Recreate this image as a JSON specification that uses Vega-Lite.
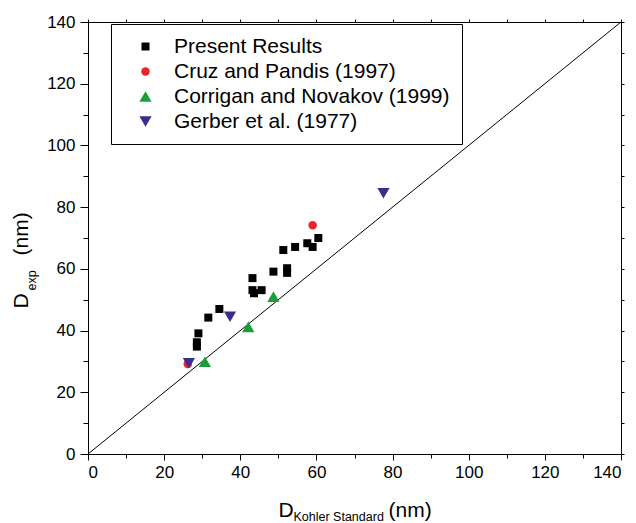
{
  "$schema": "https://vega.github.io/schema/vega-lite/v6.json",
  "width": 533,
  "height": 432,
  "autosize": {"type": "none"},
  "padding": {"left": 88, "top": 22, "right": 15, "bottom": 69},
  "background": "white",
  "config": {
    "view": {"stroke": null},
    "axis": {
      "domainColor": "black",
      "domainWidth": 1,
      "tickColor": "black",
      "tickWidth": 1,
      "labelColor": "black",
      "titleColor": "black",
      "labelFont": "Liberation Sans",
      "titleFont": "Liberation Sans",
      "labelFontSize": 17,
      "titleFontWeight": "normal",
      "grid": false
    },
    "legend": {
      "labelFont": "Liberation Sans",
      "labelFontSize": 21,
      "labelColor": "black",
      "labelLimit": 400
    }
  },
  "datasets": {
    "diag": [{"x": 0, "y": 0}, {"x": 140, "y": 140}],
    "pts": [
      {"x": 51.3, "y": 66.1, "series": "Present Results"},
      {"x": 54.4, "y": 67.1, "series": "Present Results"},
      {"x": 57.6, "y": 68.3, "series": "Present Results"},
      {"x": 59.0, "y": 67.1, "series": "Present Results"},
      {"x": 60.5, "y": 70.0, "series": "Present Results"},
      {"x": 48.7, "y": 59.1, "series": "Present Results"},
      {"x": 52.3, "y": 60.2, "series": "Present Results"},
      {"x": 52.3, "y": 58.7, "series": "Present Results"},
      {"x": 43.2, "y": 57.0, "series": "Present Results"},
      {"x": 43.2, "y": 53.1, "series": "Present Results"},
      {"x": 43.6, "y": 52.1, "series": "Present Results"},
      {"x": 45.6, "y": 53.1, "series": "Present Results"},
      {"x": 34.5, "y": 47.0, "series": "Present Results"},
      {"x": 31.6, "y": 44.2, "series": "Present Results"},
      {"x": 29.0, "y": 39.1, "series": "Present Results"},
      {"x": 28.6, "y": 36.2, "series": "Present Results"},
      {"x": 28.6, "y": 34.8, "series": "Present Results"},
      {"x": 59.0, "y": 74.1, "series": "Cruz and Pandis (1997)"},
      {"x": 26.2, "y": 29.2, "series": "Cruz and Pandis (1997)"},
      {"x": 48.7, "y": 51.0, "series": "Corrigan and Novakov (1999)"},
      {"x": 42.1, "y": 41.2, "series": "Corrigan and Novakov (1999)"},
      {"x": 30.7, "y": 29.9, "series": "Corrigan and Novakov (1999)"},
      {"x": 37.3, "y": 44.5, "series": "Gerber et al. (1977)"},
      {"x": 26.5, "y": 29.4, "series": "Gerber et al. (1977)"},
      {"x": 77.6, "y": 84.5, "series": "Gerber et al. (1977)"}
    ]
  },
  "layer": [
    {
      "data": {"name": "diag"},
      "mark": {"type": "line", "color": "black", "strokeWidth": 1},
      "encoding": {
        "x": {
          "field": "x", "type": "quantitative",
          "scale": {"domain": [0, 140], "nice": false, "zero": false},
          "axis": {
            "orient": "bottom", "values": [0, 20, 40, 60, 80, 100, 120, 140],
            "tickSize": 6, "labelPadding": 4,
            "title": "D", "titleFontSize": 21,
            "titleX": 190, "titleY": 62, "titleAlign": "left", "titleBaseline": "alphabetic", "titleAnchor": null
          }
        },
        "y": {
          "field": "y", "type": "quantitative",
          "scale": {"domain": [0, 140], "nice": false, "zero": false},
          "axis": {
            "orient": "left", "values": [0, 20, 40, 60, 80, 100, 120, 140],
            "tickSize": 8, "labelPadding": 5,
            "title": "D", "titleFontSize": 21, "titleAngle": -90,
            "titleX": -61, "titleY": 286, "titleAlign": "left", "titleBaseline": "alphabetic"
          }
        }
      }
    },
    {
      "data": {"name": "pts"},
      "mark": {"type": "point", "filled": true, "opacity": 1},
      "encoding": {
        "x": {
          "field": "x", "type": "quantitative",
          "axis": {
            "orient": "bottom", "values": [10, 30, 50, 70, 90, 110, 130],
            "tickSize": 4, "labels": false, "domain": false,
            "title": "Kohler Standard", "titleFontSize": 12.5,
            "titleX": 205, "titleY": 66, "titleAlign": "left", "titleBaseline": "alphabetic"
          }
        },
        "y": {
          "field": "y", "type": "quantitative",
          "axis": {
            "orient": "left", "values": [10, 30, 50, 70, 90, 110, 130],
            "tickSize": 5, "labels": false, "domain": false,
            "title": "exp", "titleFontSize": 12.5, "titleAngle": -90,
            "titleX": -53, "titleY": 268, "titleAlign": "left", "titleBaseline": "alphabetic"
          }
        },
        "shape": {
          "field": "series", "type": "nominal",
          "scale": {
            "domain": ["Present Results", "Cruz and Pandis (1997)", "Corrigan and Novakov (1999)", "Gerber et al. (1977)"],
            "range": ["square", "circle", "triangle-up", "triangle-down"]
          },
          "legend": {
            "title": null, "orient": "none", "legendX": 23, "legendY": 2,
            "strokeColor": "black", "padding": 12, "symbolOffset": 12,
            "labelOffset": 18, "rowPadding": 3
          }
        },
        "color": {
          "field": "series", "type": "nominal",
          "scale": {
            "domain": ["Present Results", "Cruz and Pandis (1997)", "Corrigan and Novakov (1999)", "Gerber et al. (1977)"],
            "range": ["#000000", "#e8262a", "#17a03a", "#3d2c8d"]
          },
          "legend": {
            "title": null, "orient": "none", "legendX": 23, "legendY": 2,
            "strokeColor": "black", "padding": 12, "symbolOffset": 12,
            "labelOffset": 18, "rowPadding": 3
          }
        },
        "size": {
          "field": "series", "type": "ordinal",
          "scale": {
            "type": "ordinal",
            "domain": ["Present Results", "Cruz and Pandis (1997)", "Corrigan and Novakov (1999)", "Gerber et al. (1977)"],
            "range": [64, 72, 150, 150]
          },
          "legend": {
            "title": null, "orient": "none", "legendX": 23, "legendY": 2,
            "strokeColor": "black", "padding": 12, "symbolOffset": 12,
            "labelOffset": 18, "rowPadding": 3
          }
        }
      }
    },
    {
      "data": {"name": "diag"},
      "mark": {"type": "point", "opacity": 0},
      "encoding": {
        "x": {
          "field": "x", "type": "quantitative",
          "axis": {
            "orient": "bottom", "ticks": false, "labels": false, "domain": false,
            "title": "(nm)", "titleFontSize": 21,
            "titleX": 300, "titleY": 62, "titleAlign": "left", "titleBaseline": "alphabetic"
          }
        },
        "y": {
          "field": "y", "type": "quantitative",
          "axis": {
            "orient": "left", "ticks": false, "labels": false, "domain": false,
            "title": "(nm)", "titleFontSize": 21, "titleAngle": -90,
            "titleX": -61, "titleY": 233, "titleAlign": "left", "titleBaseline": "alphabetic"
          }
        }
      }
    },
    {
      "data": {"name": "diag"},
      "mark": {"type": "point", "opacity": 0},
      "encoding": {
        "x": {
          "field": "x", "type": "quantitative",
          "axis": {
            "orient": "top", "values": [0, 10, 20, 30, 40, 50, 60, 70, 80, 90, 100, 110, 120, 130, 140],
            "tickSize": 3, "labels": false, "title": null
          }
        },
        "y": {
          "field": "y", "type": "quantitative",
          "axis": {
            "orient": "right", "values": [0, 10, 20, 30, 40, 50, 60, 70, 80, 90, 100, 110, 120, 130, 140],
            "tickSize": 3, "labels": false, "title": null
          }
        }
      }
    }
  ],
  "resolve": {"axis": {"x": "independent", "y": "independent"}}
}
